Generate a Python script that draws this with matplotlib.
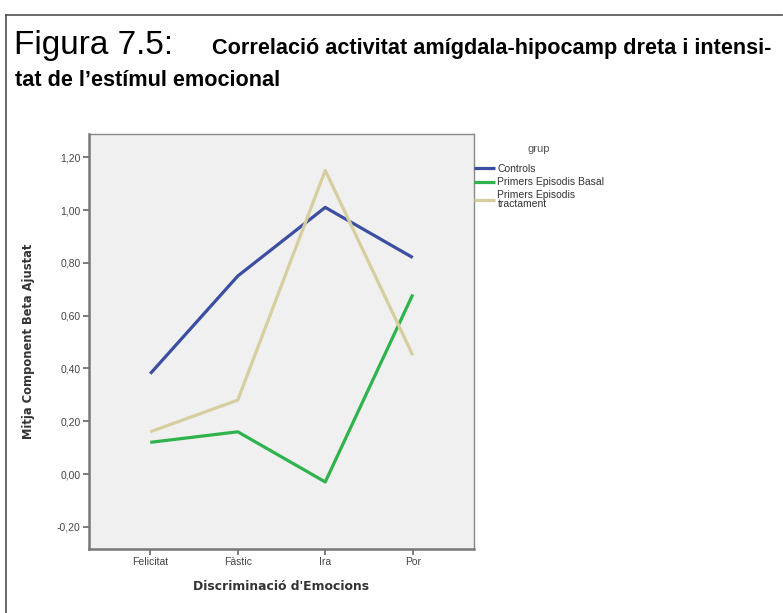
import matplotlib
matplotlib.use("Agg")
import matplotlib.pyplot as plt
from matplotlib.lines import Line2D
from matplotlib.ticker import FuncFormatter

# Mean adjusted beta component by emotion, per group
emotions = ["Felicitat", "Fàstic", "Ira", "Por"]
controls = [0.38, 0.75, 1.01, 0.82]
basal = [0.12, 0.16, -0.03, 0.68]
treatment = [0.16, 0.28, 1.15, 0.45]
group_labels = ["Controls", "Primers Episodis Basal", "Primers Episodis\ntractament"]
y_ticks = [-0.20, 0.00, 0.20, 0.40, 0.60, 0.80, 1.00, 1.20]

W, H = 783, 613
fig = plt.figure(figsize=(W / 100, H / 100), dpi=100)
fig.patch.set_facecolor("white")

# Page frame around the figure (top and left edges)
fig.add_artist(Line2D([6 / W, 782 / W], [1 - 15 / H, 1 - 15 / H],
                      transform=fig.transFigure, color="#505050", lw=1.2))
fig.add_artist(Line2D([6 / W, 6 / W], [1 - 15 / H, 0],
                      transform=fig.transFigure, color="#505050", lw=1.2))

# Caption
sans = ["Liberation Sans Narrow", "Liberation Sans", "DejaVu Sans"]
fig.text(14 / W, 1 - 54 / H, "Figura 7.5:", fontsize=24,
         family=sans, ha="left", va="baseline")
fig.text(212 / W, 1 - 54 / H, "Correlació activitat amígdala-hipocamp dreta i intensi-",
         fontsize=15.6, fontweight="bold", family=sans, ha="left", va="baseline")
fig.text(15 / W, 1 - 86 / H, "tat de l’estímul emocional",
         fontsize=15.6, fontweight="bold", family=sans, ha="left", va="baseline")

ax = fig.add_axes([89 / W, 1 - 549 / H, (474 - 89) / W, (549 - 134) / H])
ax.set_facecolor("#f0f0f0")

x = list(range(len(emotions)))
colors = ["#3b4ea1", "#2fb34c", "#d6ce9e"]
for series, lab, c in zip([controls, basal, treatment], group_labels, colors):
    ax.plot(x, series, color=c, lw=2.3, label=lab, solid_capstyle="butt")

ax.set_xlim(-0.70, 3.70)
ax.set_ylim(-0.284, 1.288)
ax.set_xticks(x)
ax.set_xticklabels(emotions)
ax.set_yticks(y_ticks)
ax.yaxis.set_major_formatter(FuncFormatter(lambda v, p: f"{v:.2f}".replace(".", ",")))

for side in ["left", "bottom"]:
    ax.spines[side].set_color("#777777")
    ax.spines[side].set_linewidth(1.8)
for side in ["top", "right"]:
    ax.spines[side].set_color("#888888")
    ax.spines[side].set_linewidth(1.0)

ax.tick_params(axis="both", length=4.5, width=1.2, color="#666666",
               labelsize=7.5, labelcolor="#444444", pad=1.5)
for t in ax.get_xticklabels() + ax.get_yticklabels():
    t.set_family(["Liberation Sans", "DejaVu Sans"])

ax.set_xlabel("Discriminació d'Emocions", fontsize=8.9, fontweight="bold",
              color="#333333", labelpad=9)
ax.set_ylabel("Mitja Component Beta Ajustat", fontsize=8.3, fontweight="bold",
              color="#333333", labelpad=16)

leg = ax.legend(title="grup", loc="upper left", bbox_to_anchor=(1.0, 0.975),
                frameon=False, handlelength=2.0, handletextpad=0.25,
                labelspacing=0.3, borderaxespad=0.0, borderpad=0.0,
                prop={"family": ["Liberation Sans", "DejaVu Sans"], "size": 7.5})
leg.get_title().set_color("#555555")
leg.get_title().set_fontsize(8)
leg.get_title().set_family(["Liberation Sans", "DejaVu Sans"])
for t in leg.get_texts():
    t.set_color("#333333")
    t.set_linespacing(0.85)
leg._legend_box.align = "center"
leg._legend_box.sep = 7

fig.savefig("out.png", dpi=100)
